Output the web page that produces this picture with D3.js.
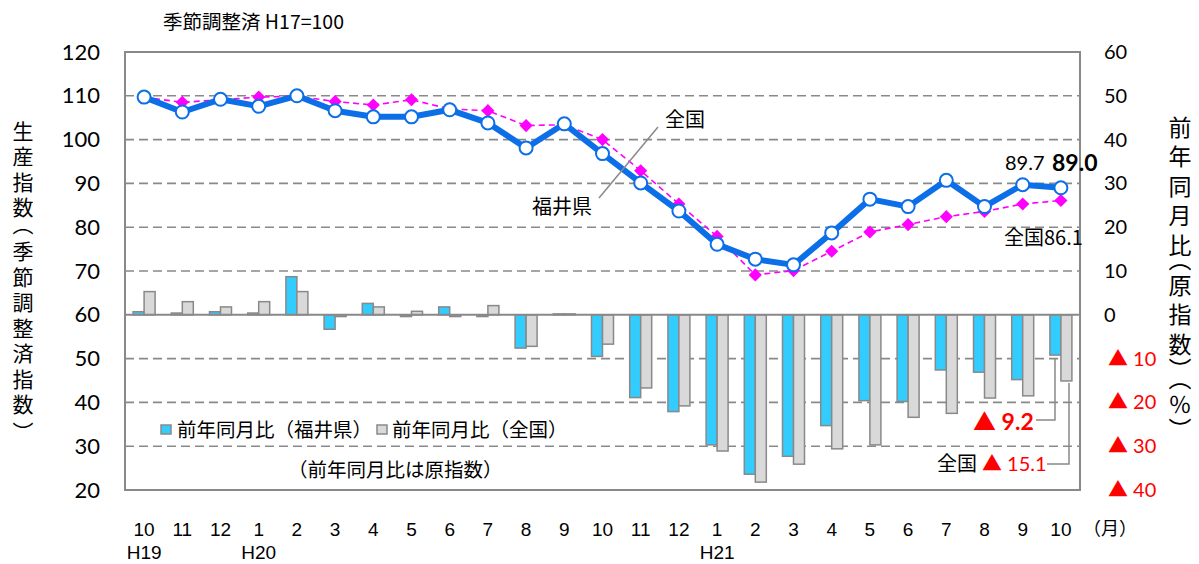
<!DOCTYPE html>
<html>
<head>
<meta charset="utf-8">
<script src="https://cdn.jsdelivr.net/npm/d3@7"></script>
<style>
  body { margin: 0; background: #fff; }
  svg { display: block; }
</style>
</head>
<body>
<script>
// months H19.10 - H21.10
var months = ["10","11","12","1","2","3","4","5","6","7","8","9","10","11","12","1","2","3","4","5","6","7","8","9","10"];
var eras = ["H19","","","H20","","","","","","","","","","","","H21","","","","","","","","",""];

// production index, seasonally adjusted (H17=100)
var fukuiIndex = [109.7,106.3,109.2,107.6,110.0,106.6,105.2,105.2,106.8,103.8,98.1,103.6,96.8,90.1,83.7,76.1,72.7,71.4,78.7,86.4,84.7,90.7,84.7,89.7,89.0];
var nationalIndex = [109.7,108.5,109.1,109.7,109.9,108.7,107.9,109.1,107.0,106.6,103.2,103.4,100.0,92.9,85.3,77.9,69.1,70.1,74.5,78.9,80.6,82.4,83.6,85.3,86.1];

// year-on-year change (%), original index
var fukuiYoY = [0.7,0.4,0.7,0.4,8.7,-3.3,2.6,-0.4,1.8,-0.4,-7.6,0.2,-9.5,-18.9,-22.1,-29.7,-36.4,-32.3,-25.3,-19.6,-19.8,-12.6,-13.1,-14.8,-9.2];
var nationalYoY = [5.3,3.0,1.8,3.0,5.3,-0.4,1.8,0.8,-0.4,2.1,-7.2,0.2,-6.7,-16.7,-20.8,-31.1,-38.2,-34.1,-30.6,-29.7,-23.4,-22.5,-19.0,-18.5,-15.1];

var leftTicks = [20,30,40,50,60,70,80,90,100,110,120];
var rightTicks = [-40,-30,-20,-10,0,10,20,30,40,50,60];

var width = 1199, height = 564;
var plotL = 125, plotR = 1080, plotT = 52, plotB = 490;

var jp = "'Noto Sans CJK JP', sans-serif";
var num = "Lato, 'Noto Sans CJK JP', sans-serif";
var narrow = "'Liberation Sans Narrow', 'Liberation Sans', sans-serif";
var grey = "#898989";
var blue = "#0c6fe8";
var red = "#ff0000";

var svg = d3.select("body").append("svg")
    .attr("width", width)
    .attr("height", height);

var x = d3.scaleBand().domain(d3.range(months.length)).range([plotL, plotR]);
var xSub = d3.scaleBand().domain(["f", "n"]).range([-11, 11]);
var yL = d3.scaleLinear().domain([20, 120]).range([plotB, plotT]);
var yR = d3.scaleLinear().domain([-40, 60]).range([plotB, plotT]);
function cx(i) { return x(i) + x.bandwidth() / 2; }

// gridlines
svg.append("g").selectAll("line")
    .data(leftTicks.filter(function(d){ return d > 20 && d < 120 && d != 60; }))
    .enter().append("line")
    .attr("x1", plotL).attr("x2", plotR)
    .attr("y1", function(d){ return yL(d); })
    .attr("y2", function(d){ return yL(d); })
    .style("stroke", grey)
    .style("stroke-width", 1.6)
    .style("stroke-dasharray", "9,5");

// bars
var bars = svg.append("g");
function drawBars(values, key, fill) {
    bars.selectAll("rect." + key)
        .data(values)
        .enter().append("rect")
        .attr("class", key)
        .attr("x", function(d, i){ return cx(i) + xSub(key); })
        .attr("width", xSub.bandwidth())
        .attr("y", function(d){ return yR(Math.max(0, d)); })
        .attr("height", function(d){ return Math.abs(yR(d) - yR(0)); })
        .style("fill", fill)
        .style("stroke", grey)
        .style("stroke-width", 1.5);
}
drawBars(fukuiYoY, "f", "#33ccff");
drawBars(nationalYoY, "n", "#d9d9d9");

// zero line of the bars
svg.append("line")
    .attr("x1", plotL).attr("x2", plotR)
    .attr("y1", yR(0)).attr("y2", yR(0))
    .style("stroke", grey)
    .style("stroke-width", 2);

// frame
svg.append("rect")
    .attr("x", plotL).attr("y", plotT)
    .attr("width", plotR - plotL).attr("height", plotB - plotT)
    .style("fill", "none")
    .style("stroke", grey)
    .style("stroke-width", 2);

// national line (dashed magenta, diamonds)
var lineL = d3.line()
    .x(function(d, i){ return cx(i); })
    .y(function(d){ return yL(d); });

svg.append("path")
    .datum(nationalIndex)
    .attr("d", lineL)
    .style("fill", "none")
    .style("stroke", "#ff00ff")
    .style("stroke-width", 1.6)
    .style("stroke-dasharray", "6,4");

svg.append("g").selectAll("path")
    .data(nationalIndex)
    .enter().append("path")
    .attr("d", d3.symbol().type(d3.symbolDiamond2).size(110))
    .attr("transform", function(d, i){ return "translate(" + cx(i) + "," + yL(d) + ")"; })
    .style("fill", "#ff00ff");

// Fukui line (thick blue, white circles)
svg.append("path")
    .datum(fukuiIndex)
    .attr("d", lineL)
    .style("fill", "none")
    .style("stroke", blue)
    .style("stroke-width", 6)
    .style("stroke-linejoin", "round");

svg.append("g").selectAll("circle")
    .data(fukuiIndex)
    .enter().append("circle")
    .attr("cx", function(d, i){ return cx(i); })
    .attr("cy", function(d){ return yL(d); })
    .attr("r", 6.5)
    .style("fill", "#fff")
    .style("stroke", blue)
    .style("stroke-width", 2);

// axes
var axL = svg.append("g")
    .attr("transform", "translate(" + plotL + ",0)")
    .call(d3.axisLeft(yL).tickValues(leftTicks).tickSize(0).tickPadding(25));
axL.select(".domain").remove();
axL.selectAll("text")
    .style("font-family", num)
    .style("font-size", "22px")
    .style("fill", "#000");

var axR = svg.append("g")
    .attr("transform", "translate(" + plotR + ",0)")
    .call(d3.axisRight(yR).tickValues(rightTicks).tickSize(0).tickPadding(24)
        .tickFormat(function(d){ return d < 0 ? "▲ " + (-d) : String(d); }));
axR.select(".domain").remove();
axR.selectAll("text")
    .attr("dx", function(d){ return d < 0 ? 4 : 0; })
    .style("font-family", num)
    .style("font-size", "20px")
    .style("fill", function(d){ return d < 0 ? red : "#000"; });

var axB = svg.append("g")
    .attr("transform", "translate(0," + plotB + ")")
    .call(d3.axisBottom(x).tickSize(0).tickFormat(function(i){ return months[i]; }));
axB.select(".domain").remove();
axB.selectAll("text")
    .attr("y", 39)
    .attr("dy", "0.35em")
    .style("font-family", narrow)
    .style("font-size", "19px")
    .style("fill", "#000");

svg.append("g").selectAll("text")
    .data(eras)
    .enter().append("text")
    .filter(function(d){ return d != ""; })
    .attr("x", function(d){ return cx(eras.indexOf(d)); })
    .attr("y", 552)
    .attr("dy", "0.35em")
    .attr("text-anchor", "middle")
    .style("font-family", narrow)
    .style("font-size", "19px")
    .text(function(d){ return d; });

function label(txt, tx, ty, opts) {
    opts = opts || {};
    return svg.append("text")
        .attr("x", tx).attr("y", ty)
        .attr("dy", "0.35em")
        .attr("text-anchor", opts.anchor || "start")
        .style("font-family", opts.font || jp)
        .style("font-size", (opts.size || 20) + "px")
        .style("font-weight", opts.weight || "normal")
        .style("fill", opts.fill || "#000")
        .text(txt);
}

label("（月）", 1083, 529, {size: 18});
label("季節調整済 H17=100", 163, 22, {size: 19.5});

// vertical titles: one text in vertical writing mode, glyphs placed one by one
function vtitle(str, tx, ty0, full, half, size) {
    var t = svg.append("text")
        .attr("x", tx)
        .style("writing-mode", "vertical-rl")
        .style("font-family", jp)
        .style("font-size", size + "px");
    var yy = ty0, prev = null;
    Array.from(str).forEach(function(c) {
        var isParen = (c == "（" || c == "）");
        if (prev !== null) yy += (isParen || prev) ? half : full;
        var shift = c == "（" ? -0.25 * size : (c == "）" ? 0.25 * size : 0);
        t.append("tspan")
            .attr("x", tx)
            .attr("y", yy + shift - size / 2)
            .text(c);
        prev = isParen;
    });
}
vtitle("生産指数（季節調整済指数）", 23, 131, 25.5, 22, 21);
vtitle("前年同月比（原指数）（％）", 1180, 127, 29.5, 20, 23);

// series names and leader line
svg.append("line")
    .attr("x1", 658).attr("y1", 127).attr("x2", 599).attr("y2", 198)
    .style("stroke", grey).style("stroke-width", 1.5);
label("全国", 665, 120);
label("福井県", 532, 207);

// latest values
label("89.7", 1005, 163, {font: num, size: 20});
label("89.0", 1052, 163, {font: num, size: 23, weight: "bold"});
label("全国86.1", 1004, 238, {size: 20});

// YoY callouts
svg.append("polyline")
    .attr("points", [[1036, 420], [1055, 420], [1055, yR(fukuiYoY[24]) + 3]].join(" "))
    .style("fill", "none").style("stroke", grey).style("stroke-width", 1.5);
label("▲ 9.2", 973, 422, {font: num, size: 23, weight: "bold", fill: red});

svg.append("polyline")
    .attr("points", [[1047, 464], [1069, 464], [1069, yR(nationalYoY[24]) + 2]].join(" "))
    .style("fill", "none").style("stroke", grey).style("stroke-width", 1.5);
label("全国", 937, 464, {size: 20});
label("▲ 15.1", 982, 464, {font: num, size: 20, fill: red});

// legend
svg.append("rect").attr("x", 161).attr("y", 425).attr("width", 10).attr("height", 9)
    .style("fill", "#33ccff").style("stroke", grey).style("stroke-width", 1.5);
label("前年同月比（福井県）", 177, 430, {size: 19.5});
svg.append("rect").attr("x", 377).attr("y", 425).attr("width", 10).attr("height", 9)
    .style("fill", "#d9d9d9").style("stroke", grey).style("stroke-width", 1.5);
label("前年同月比（全国）", 392, 430, {size: 19.5});
label("（前年同月比は原指数）", 288, 470, {size: 19.5});
</script>
</body>
</html>
